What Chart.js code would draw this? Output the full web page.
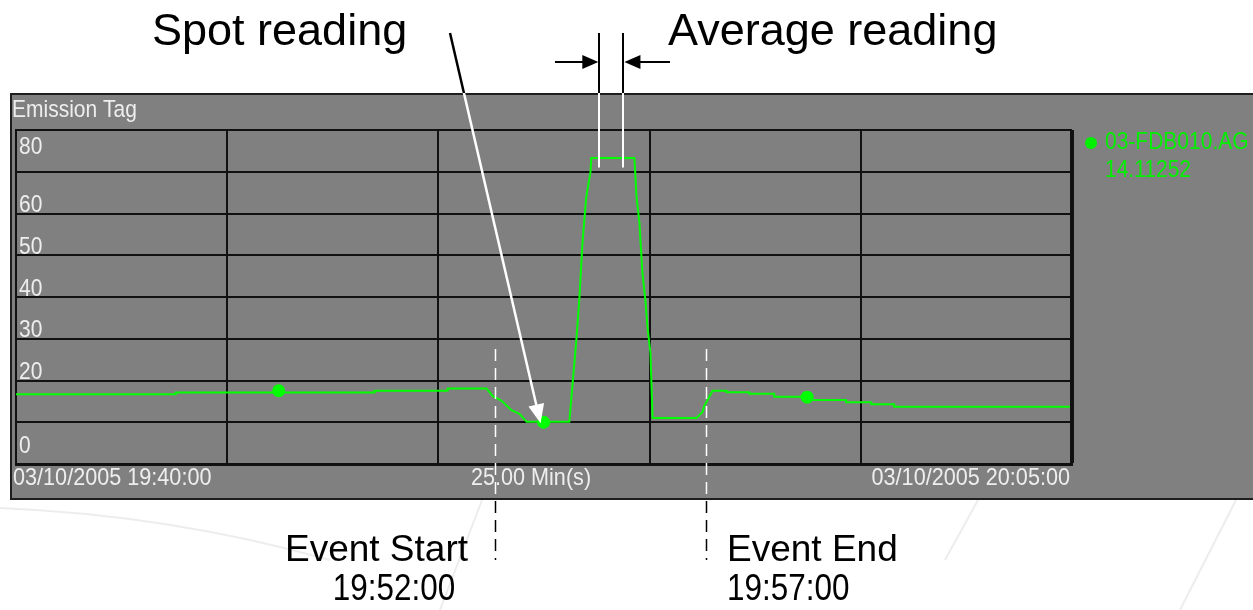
<!DOCTYPE html>
<html>
<head>
<meta charset="utf-8">
<script src="https://cdn.jsdelivr.net/npm/chart.js@4.4.0/dist/chart.umd.min.js"></script>
<style>
  html, body { margin: 0; padding: 0; background: #fff; }
  #chart { display: block; }
</style>
</head>
<body>
<canvas id="chart" width="1253" height="610"></canvas>
<script>
// time axis: minutes after 03/10/2005 19:40:00
const times = [0, 3.78, 3.78, 8.49, 8.49, 10.22, 10.22, 11.14, 11.28, 11.49, 11.73, 11.92, 12.09,
  13.10, 13.17, 13.27, 13.34, 13.41, 13.50, 13.60, 13.62, 14.64, 14.69, 14.76, 14.83, 14.90, 14.95,
  15.02, 15.07, 16.11, 16.25, 16.29, 16.49, 16.82, 16.82, 17.36, 17.36, 17.95, 17.95, 18.83, 18.83,
  19.65, 19.65, 20.25, 20.25, 20.79, 20.79, 24.95];
const values = [16.7, 16.7, 17.1, 17.1, 17.55, 17.55, 18.1, 18.1, 16.3, 15.2, 12.9, 12.0, 10.1,
  10.1, 18.4, 30.2, 40.0, 52.9, 64.0, 69.9, 73.3, 73.3, 64.0, 57.7, 45.7, 39.3, 32.8,
  26.6, 11.0, 11.0, 12.4, 13.8, 17.55, 17.55, 17.2, 17.2, 16.8, 16.8, 16.1, 16.1, 15.3,
  15.3, 14.8, 14.8, 14.3, 14.3, 13.7, 13.7];

// sample markers on the trace
const markerTimes = [6.22, 12.49, 18.73];
const markerValues = [17.55, 10.0, 16.0];

const yTickLabels = [80, 60, 50, 40, 30, 20, 0];
const xTickLabels = ['03/10/2005 19:40:00', '25.00 Min(s)', '03/10/2005 20:05:00'];
const seriesName = '03-FDB010.AG';
const seriesValue = '14.11252';

// annotations (minutes)
const eventStart = 11.33, eventEnd = 16.34;
const avgFrom = 13.81, avgTo = 14.38;

const FONT = '"Liberation Sans", Arial, sans-serif';
const PANEL = { x: 10, y: 93, bottom: 500 };

function panelClip(ctx, w, outside) {
  ctx.beginPath();
  if (outside) ctx.rect(0, 0, w, 610);
  ctx.rect(PANEL.x, PANEL.y, w - PANEL.x, PANEL.bottom - PANEL.y);
  ctx.clip(outside ? 'evenodd' : 'nonzero');
}

// stroke a path black outside the grey panel and white inside it
function twoTone(ctx, w, draw) {
  ctx.save(); panelClip(ctx, w, true); ctx.strokeStyle = '#000'; ctx.fillStyle = '#000'; draw(); ctx.restore();
  ctx.save(); panelClip(ctx, w, false); ctx.strokeStyle = '#fff'; ctx.fillStyle = '#fff'; draw(); ctx.restore();
}

function arrowHead(ctx, tx, ty, fx, fy, len, half) {
  const a = Math.atan2(ty - fy, tx - fx);
  ctx.beginPath();
  ctx.moveTo(tx, ty);
  ctx.lineTo(tx - len * Math.cos(a) + half * Math.sin(a), ty - len * Math.sin(a) - half * Math.cos(a));
  ctx.lineTo(tx - len * Math.cos(a) - half * Math.sin(a), ty - len * Math.sin(a) + half * Math.cos(a));
  ctx.closePath();
  ctx.fill();
}

// text with a horizontal / vertical stretch
function text(ctx, s, x, y, sx, sy) {
  ctx.save();
  ctx.translate(x, y);
  ctx.scale(sx, sy);
  ctx.fillText(s, 0, 0);
  ctx.restore();
}

const panelPlugin = {
  id: 'panel',
  beforeDraw(chart) {
    const ctx = chart.ctx, w = chart.width;
    ctx.save();
    ctx.fillStyle = '#fff';
    ctx.fillRect(0, 0, w, chart.height);
    // faint slide background strokes
    ctx.strokeStyle = '#ededed';
    ctx.lineWidth = 2;
    ctx.beginPath(); ctx.moveTo(0, 508); ctx.quadraticCurveTo(170, 515, 330, 560); ctx.stroke();
    ctx.beginPath(); ctx.moveTo(482, 500); ctx.lineTo(440, 610); ctx.stroke();
    ctx.beginPath(); ctx.moveTo(978, 500); ctx.lineTo(945, 560); ctx.stroke();
    ctx.beginPath(); ctx.moveTo(1236, 500); ctx.lineTo(1180, 610); ctx.stroke();
    // grey trend panel
    ctx.fillStyle = '#808080';
    ctx.fillRect(PANEL.x, PANEL.y, w - PANEL.x, PANEL.bottom - PANEL.y);
    ctx.strokeStyle = '#1e1e1e';
    ctx.lineWidth = 2;
    ctx.beginPath();
    ctx.moveTo(w, PANEL.y + 1); ctx.lineTo(PANEL.x + 1, PANEL.y + 1);
    ctx.lineTo(PANEL.x + 1, PANEL.bottom - 1); ctx.lineTo(w, PANEL.bottom - 1);
    ctx.stroke();
    ctx.restore();
  }
};

const overlayPlugin = {
  id: 'overlay',
  afterDraw(chart) {
    const ctx = chart.ctx, xs = chart.scales.x, ys = chart.scales.y, area = chart.chartArea, w = chart.width;
    ctx.save();

    // trend texts
    ctx.font = '21px ' + FONT;
    ctx.fillStyle = '#eeeeee';
    ctx.textAlign = 'left';
    ctx.textBaseline = 'middle';
    text(ctx, 'Emission Tag', 12, 111, 1, 1.12);
    yTickLabels.forEach(v => {
      const y = ys.getPixelForValue(v);
      if (v === ys.max) { ctx.textBaseline = 'top'; text(ctx, String(v), area.left + 3, y + 6, 1, 1.12); }
      else if (v === ys.min) { ctx.textBaseline = 'bottom'; text(ctx, String(v), area.left + 3, y - 6, 1, 1.12); }
      else { ctx.textBaseline = 'bottom'; text(ctx, String(v), area.left + 3, y + 4, 1, 1.12); }
    });
    ctx.textBaseline = 'middle';
    const ly = area.bottom + 15;
    ctx.textAlign = 'left';   text(ctx, xTickLabels[0], area.left - 3, ly, 1.03, 1.12);
    ctx.textAlign = 'center'; text(ctx, xTickLabels[1], 531, ly, 1.03, 1.12);
    ctx.textAlign = 'right';  text(ctx, xTickLabels[2], area.right - 2, ly, 1.03, 1.12);

    // legend
    ctx.fillStyle = '#00f000';
    ctx.beginPath(); ctx.arc(area.right + 19, 143, 6, 0, Math.PI * 2); ctx.fill();
    ctx.textAlign = 'left';
    text(ctx, seriesName, area.right + 33, 143, 1, 1.12);
    text(ctx, seriesValue, area.right + 33, 171, 1, 1.12);

    // event markers (dashed)
    ctx.lineWidth = 1.5;
    [eventStart, eventEnd].forEach(t => {
      const x = Math.round(xs.getPixelForValue(t)) + 0.5;
      twoTone(ctx, w, () => {
        ctx.setLineDash([12, 7]);
        ctx.beginPath(); ctx.moveTo(x, 349); ctx.lineTo(x, 560); ctx.stroke();
      });
    });
    ctx.setLineDash([]);

    // average window lines
    ctx.lineWidth = 2;
    [avgFrom, avgTo].forEach(t => {
      const x = Math.round(xs.getPixelForValue(t));
      twoTone(ctx, w, () => {
        ctx.beginPath(); ctx.moveTo(x, 33); ctx.lineTo(x, ys.getPixelForValue(71)); ctx.stroke();
      });
    });
    const xa = xs.getPixelForValue(avgFrom), xb = xs.getPixelForValue(avgTo);
    ctx.strokeStyle = '#000'; ctx.fillStyle = '#000'; ctx.lineWidth = 2;
    ctx.beginPath(); ctx.moveTo(555, 62); ctx.lineTo(xa - 10, 62); ctx.stroke();
    arrowHead(ctx, xa - 1, 62, 555, 62, 16, 7);
    ctx.beginPath(); ctx.moveTo(670, 62); ctx.lineTo(xb + 10, 62); ctx.stroke();
    arrowHead(ctx, xb + 1, 62, 670, 62, 16, 7);

    // spot reading arrow
    const tx = xs.getPixelForValue(markerTimes[1]) - 3, ty = ys.getPixelForValue(markerValues[1]) + 1;
    const sx = 450, sy = 33;
    twoTone(ctx, w, () => {
      ctx.lineWidth = 2.5;
      ctx.beginPath(); ctx.moveTo(sx, sy); ctx.lineTo(tx - 3.5, ty - 15); ctx.stroke();
      arrowHead(ctx, tx, ty, sx, sy, 19, 8);
    });

    // callout texts
    ctx.fillStyle = '#000';
    ctx.textBaseline = 'alphabetic';
    ctx.textAlign = 'left';
    ctx.font = '45px ' + FONT;
    ctx.fillText('Spot reading', 152, 45);
    ctx.fillText('Average reading', 668, 45);
    ctx.font = '37px ' + FONT;
    ctx.textAlign = 'right';
    ctx.fillText('Event Start', 468, 561);
    ctx.textAlign = 'center';
    text(ctx, '19:52:00', 394, 600, 0.85, 1);
    ctx.textAlign = 'left';
    ctx.fillText('Event End', 727, 561);
    text(ctx, '19:57:00', 727, 600, 0.85, 1);
    ctx.restore();
  }
};

new Chart(document.getElementById('chart'), {
  type: 'line',
  data: {
    datasets: [
      {
        data: times.map((t, i) => ({ x: t, y: values[i] })),
        borderColor: '#00ff00',
        borderWidth: 2,
        pointRadius: 0,
        tension: 0,
        fill: false,
        order: 2
      },
      {
        data: markerTimes.map((t, i) => ({ x: t, y: markerValues[i] })),
        showLine: false,
        pointRadius: 6.5,
        pointBackgroundColor: '#00ff00',
        pointBorderWidth: 0,
        order: 1
      }
    ]
  },
  options: {
    responsive: false,
    animation: false,
    devicePixelRatio: 1,
    layout: { padding: { left: 16, top: 130, right: 181, bottom: 146 } },
    plugins: { legend: { display: false }, tooltip: { enabled: false } },
    scales: {
      x: {
        type: 'linear', min: 0, max: 25,
        ticks: { display: false, stepSize: 5 },
        grid: { color: '#111', lineWidth: c => (c.tick && c.tick.value === 25 ? 4 : 2), drawTicks: false },
        border: { color: '#111', width: 3 }
      },
      y: {
        min: 0, max: 80,
        ticks: { display: false, stepSize: 10 },
        grid: { color: '#111', lineWidth: 2, drawTicks: false },
        border: { color: '#111', width: 2 }
      }
    }
  },
  plugins: [panelPlugin, overlayPlugin]
});
</script>
</body>
</html>
